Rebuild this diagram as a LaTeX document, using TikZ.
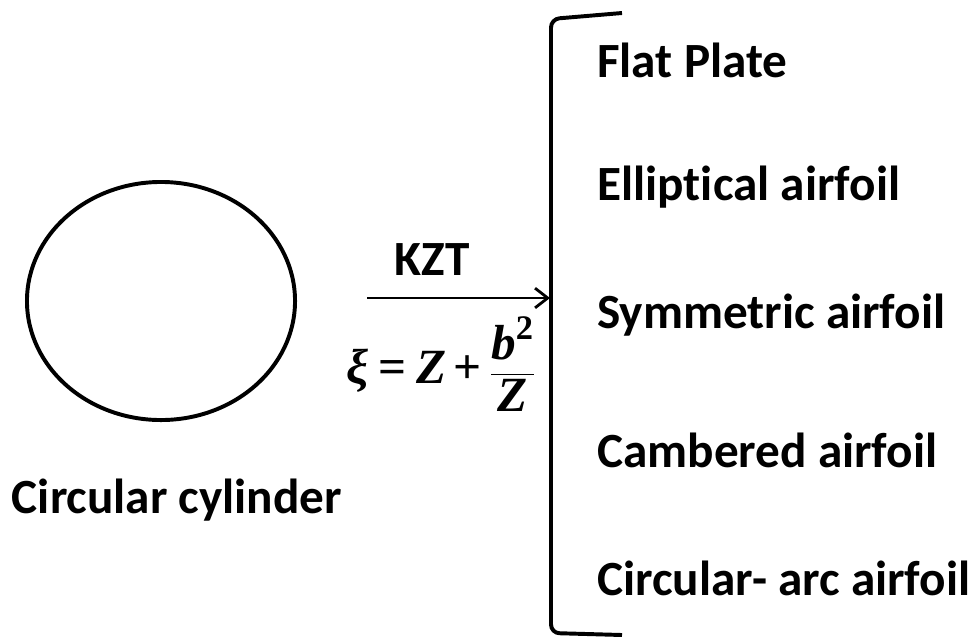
\documentclass[tikz,border=0pt]{standalone}
\usepackage{amsmath}
\usepackage{fontspec}
\setmainfont[Ligatures=NoCommon]{Carlito}
\newfontfamily\eqfont{Liberation Serif}
\newcommand{\bv}[1]{\text{\eqfont\bfseries\itshape #1}}
\newcommand{\bo}[1]{\text{\eqfont\bfseries #1}}
\usetikzlibrary{arrows.meta,shapes.geometric}
\begin{document}
\begin{tikzpicture}[
	x=0.025cm, y=-0.025cm,
	label/.style={ font=\fontsize{35}{42}\selectfont\bfseries, inner sep=0pt },
	item/.style={ label, anchor=west },
	eqn/.style={ font=\fontsize{35}{42}\selectfont, inner sep=0pt },
	thick line/.style={ line width=2.8pt },
	map/.style={ line width=2pt, -{Straight Barb[length=9pt,width=14pt,line width=2pt]} }
]
\useasboundingbox (0,0) rectangle (978,639);

\node at (161,301) (cyl) [draw, thick line, ellipse, minimum width=6.7cm, minimum height=5.95cm, inner sep=0pt] {};
\node at (177,500) (cyllabel) [label] {Circular cylinder};

\coordinate (start) at (367,298);
\coordinate (end) at (550,298);
\draw[map] (start) to (end);
\node at (441,364) (formula) [eqn] {$\displaystyle \bv{ξ} \mathrel{\bo{=}} \bv{Z} \mathbin{\bo{+}} \frac{\bv{b}^{\bo{2}}}{\bv{Z}}$};
\node at (432,260) (kzt) [label] {KZT};

% bracket
\draw[thick line, rounded corners=6pt] (622,13) -- (551,19) -- (551,633) -- (622,635);

\node at (597,60) (flat) [item] {Flat Plate};
\node at (597,187) (ellip) [item] {Elliptical airfoil};
\node at (597,315) (symm) [item] {Symmetric airfoil};
\node at (597,450) (camb) [item] {Cambered airfoil};
\node at (597,578) (arc) [item] {Circular- arc airfoil};

\end{tikzpicture}
\end{document}
